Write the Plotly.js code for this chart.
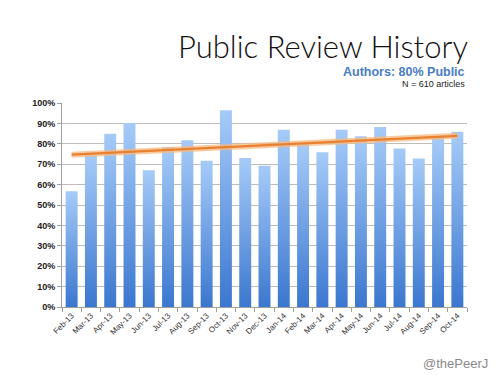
<!DOCTYPE html>
<html>
<head>
<meta charset="utf-8">
<script src="https://cdn.plot.ly/plotly-3.0.1.min.js"></script>
<style>html,body{margin:0;padding:0;background:#fff;}#chart{width:500px;height:375px;}</style>
</head>
<body>
<div id="chart"></div>
<script>
// ---- data ----
const months = ["Feb-13","Mar-13","Apr-13","May-13","Jun-13","Jul-13","Aug-13","Sep-13","Oct-13","Nov-13","Dec-13",
                "Jan-14","Feb-14","Mar-14","Apr-14","May-14","Jun-14","Jul-14","Aug-14","Sep-14","Oct-14"];
const publicShare = [0.567,0.746,0.849,0.902,0.670,0.784,0.817,0.717,0.964,0.730,0.693,
                     0.869,0.799,0.758,0.869,0.837,0.882,0.777,0.728,0.836,0.859];
const titleText = "Public Review History";
const subtitleText = "Authors: 80% Public";
const noteText = "N = 610 articles";
const creditText = "@thePeerJ";

// linear trend (least squares) of the bar values, as in the original chart
const n = publicShare.length;
const idx = publicShare.map((_, i) => i);
const mx = idx.reduce((a, b) => a + b, 0) / n;
const my = publicShare.reduce((a, b) => a + b, 0) / n;
let sxy = 0, sxx = 0;
idx.forEach((x, i) => { sxy += (x - mx) * (publicShare[i] - my); sxx += (x - mx) * (x - mx); });
const slope = sxy / sxx;
const trendY = idx.map(x => my + slope * (x - mx));

const bars = {
  type: "bar", x: months, y: publicShare,
  marker: { color: "#6a9ee6", line: { width: 0 } },
  hoverinfo: "x+y", showlegend: false
};
const glow = {
  type: "scatter", mode: "lines", x: months, y: trendY,
  line: { color: "rgba(245,185,130,0.75)", width: 6 }, hoverinfo: "skip", showlegend: false
};
const trend = {
  type: "scatter", mode: "lines", x: months, y: trendY,
  line: { color: "#e9812f", width: 2.2 }, hoverinfo: "skip", showlegend: false
};

const layout = {
  width: 500, height: 375,
  margin: { l: 62, r: 33, t: 103, b: 68 },
  paper_bgcolor: "#fff", plot_bgcolor: "#fff",
  font: { family: "Liberation Sans, Arial, sans-serif", color: "#222" },
  title: {
    text: titleText, xref: "container", yref: "container",
    x: 0.936, xanchor: "right", y: 1 - 47 / 375, yanchor: "middle",
    font: { family: "Lato, 'Open Sans', sans-serif", size: 31, weight: 300, color: "#111" }
  },
  bargap: 0.38,
  xaxis: {
    type: "category", tickangle: -45, tickfont: { size: 8, color: "#333" },
    showline: true, linecolor: "#a0a0a0", linewidth: 1,
    ticks: "outside", ticklen: 4, tickcolor: "#a0a0a0", tickson: "boundaries",
    showgrid: false, zeroline: false, fixedrange: true
  },
  yaxis: {
    range: [0, 1], dtick: 0.1, tick0: 0, tickformat: ".0%",
    tickfont: { size: 9, color: "#222", weight: "bold" },
    showline: true, linecolor: "#a0a0a0", linewidth: 1,
    ticks: "outside", ticklen: 4, tickcolor: "#a0a0a0",
    showgrid: true, gridcolor: "#bdbdbd", gridwidth: 1, zeroline: false, fixedrange: true
  },
  annotations: [
    { text: "<b>" + subtitleText + "</b>", xref: "paper", yref: "paper", x: 1, xanchor: "right",
      y: 1 + (103 - 71.5) / 204, yanchor: "middle", showarrow: false,
      font: { size: 12.5, color: "#4a7cc6", family: "Liberation Sans, Arial, sans-serif" } },
    { text: noteText, xref: "paper", yref: "paper", x: 1, xanchor: "right",
      y: 1 + (103 - 84) / 204, yanchor: "middle", showarrow: false,
      font: { size: 9, color: "#222", family: "Liberation Sans, Arial, sans-serif" } },
    { text: creditText, xref: "paper", yref: "paper", x: 1 + (490 - 467) / 405, xanchor: "right",
      y: -(363 - 307) / 204, yanchor: "middle", showarrow: false,
      font: { size: 13, color: "#8a8a8a", family: "Liberation Sans, Arial, sans-serif" } }
  ]
};

Plotly.newPlot("chart", [bars, glow, trend], layout, { displayModeBar: false, staticPlot: true }).then(gd => {
  const svg = gd.querySelector("svg.main-svg");
  const ns = "http://www.w3.org/2000/svg";
  let defs = svg.querySelector("defs");
  if (!defs) { defs = document.createElementNS(ns, "defs"); svg.insertBefore(defs, svg.firstChild); }
  const grad = document.createElementNS(ns, "linearGradient");
  grad.setAttribute("id", "barGrad");
  grad.setAttribute("x1", "0"); grad.setAttribute("y1", "0");
  grad.setAttribute("x2", "0"); grad.setAttribute("y2", "1");
  [["0%", "#a6cbf8"], ["100%", "#3b77cf"]].forEach(([o, c]) => {
    const s = document.createElementNS(ns, "stop");
    s.setAttribute("offset", o); s.setAttribute("stop-color", c);
    grad.appendChild(s);
  });
  defs.appendChild(grad);
  gd.querySelectorAll(".bars .point path").forEach(p => { p.style.fill = "url(#barGrad)"; });
});
</script>
</body>
</html>
